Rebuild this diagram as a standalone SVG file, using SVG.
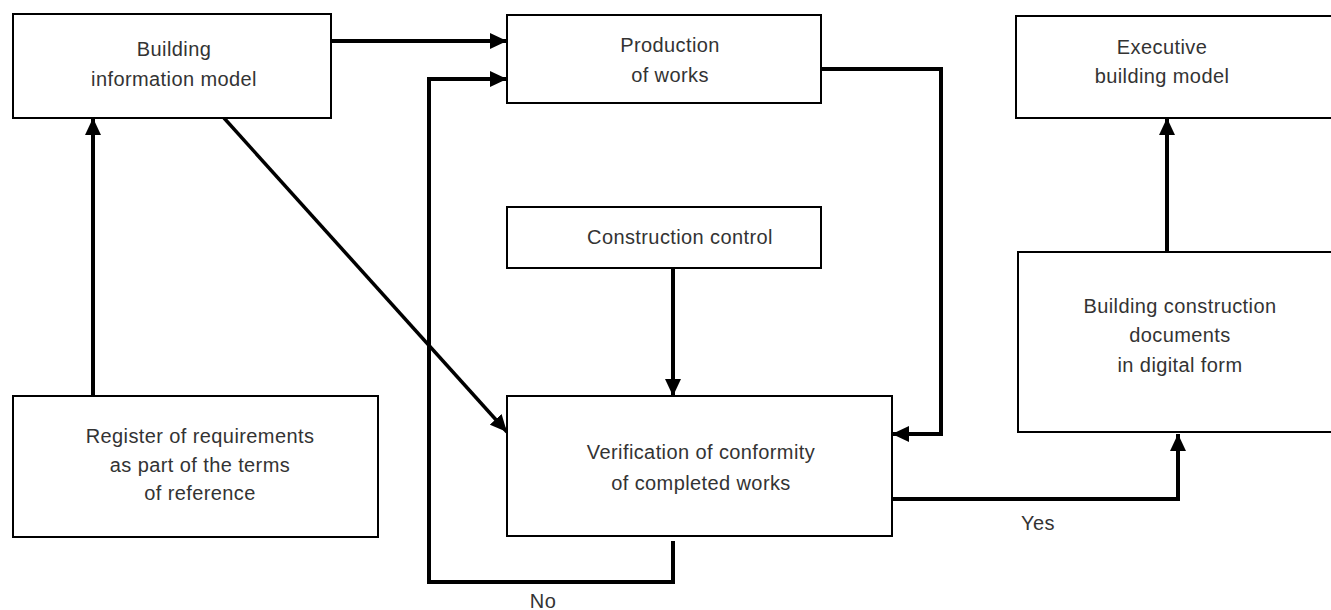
<svg xmlns="http://www.w3.org/2000/svg" width="1331" height="610" viewBox="0 0 1331 610">
<defs>
<style>
.box{fill:#fff;stroke:#000;stroke-width:2}
.t{font-family:"Liberation Sans",Arial,sans-serif;font-size:20px;letter-spacing:0.4px;fill:#333;text-anchor:middle}
.c{fill:none;stroke:#000;stroke-width:4;stroke-linejoin:miter}
</style>
<marker id="ah" markerUnits="userSpaceOnUse" markerWidth="18" markerHeight="16" refX="17" refY="8" orient="auto">
<path d="M0,0 L17,8 L0,16 z" fill="#000"/>
</marker>
</defs>
<g id="connectors">
<line class="c" x1="331" y1="41" x2="507" y2="41" marker-end="url(#ah)"/>
<polyline class="c" points="673,541 673,582 429,582 429,79 507,79" marker-end="url(#ah)"/>
<polyline class="c" points="821,69 941,69 941,434 892,434" marker-end="url(#ah)"/>
<line class="c" x1="224" y1="118" x2="507" y2="432" style="stroke-width:3.5" marker-end="url(#ah)"/>
<line class="c" x1="93" y1="396" x2="93" y2="118" marker-end="url(#ah)"/>
<line class="c" x1="673" y1="268" x2="673" y2="396" marker-end="url(#ah)"/>
<polyline class="c" points="892,499 1178,499 1178,434" marker-end="url(#ah)"/>
<line class="c" x1="1167" y1="251" x2="1167" y2="118" marker-end="url(#ah)"/>
<text class="t" x="1038" y="530">Yes</text>
<text class="t" x="543" y="608">No</text>
</g>
<g id="bim">
<rect class="box" x="13" y="14" width="318" height="104"/>
<text class="t" x="174" y="56">Building</text>
<text class="t" x="174" y="86">information model</text>
</g>
<g id="production">
<rect class="box" x="507" y="15" width="314" height="88"/>
<text class="t" x="670" y="52">Production</text>
<text class="t" x="670" y="82">of works</text>
</g>
<g id="executive">
<rect class="box" x="1016" y="16" width="330" height="102"/>
<text class="t" x="1162" y="54">Executive</text>
<text class="t" x="1162" y="83">building model</text>
</g>
<g id="control">
<rect class="box" x="507" y="207" width="314" height="61"/>
<text class="t" x="680" y="244">Construction control</text>
</g>
<g id="documents">
<rect class="box" x="1018" y="252" width="330" height="180"/>
<text class="t" x="1180" y="313">Building construction</text>
<text class="t" x="1180" y="342">documents</text>
<text class="t" x="1180" y="372">in digital form</text>
</g>
<g id="verification">
<rect class="box" x="507" y="396" width="385" height="140"/>
<text class="t" x="701" y="459">Verification of conformity</text>
<text class="t" x="701" y="490">of completed works</text>
</g>
<g id="register">
<rect class="box" x="13" y="396" width="365" height="141"/>
<text class="t" x="200" y="443">Register of requirements</text>
<text class="t" x="200" y="472">as part of the terms</text>
<text class="t" x="200" y="500">of reference</text>
</g>
</svg>
